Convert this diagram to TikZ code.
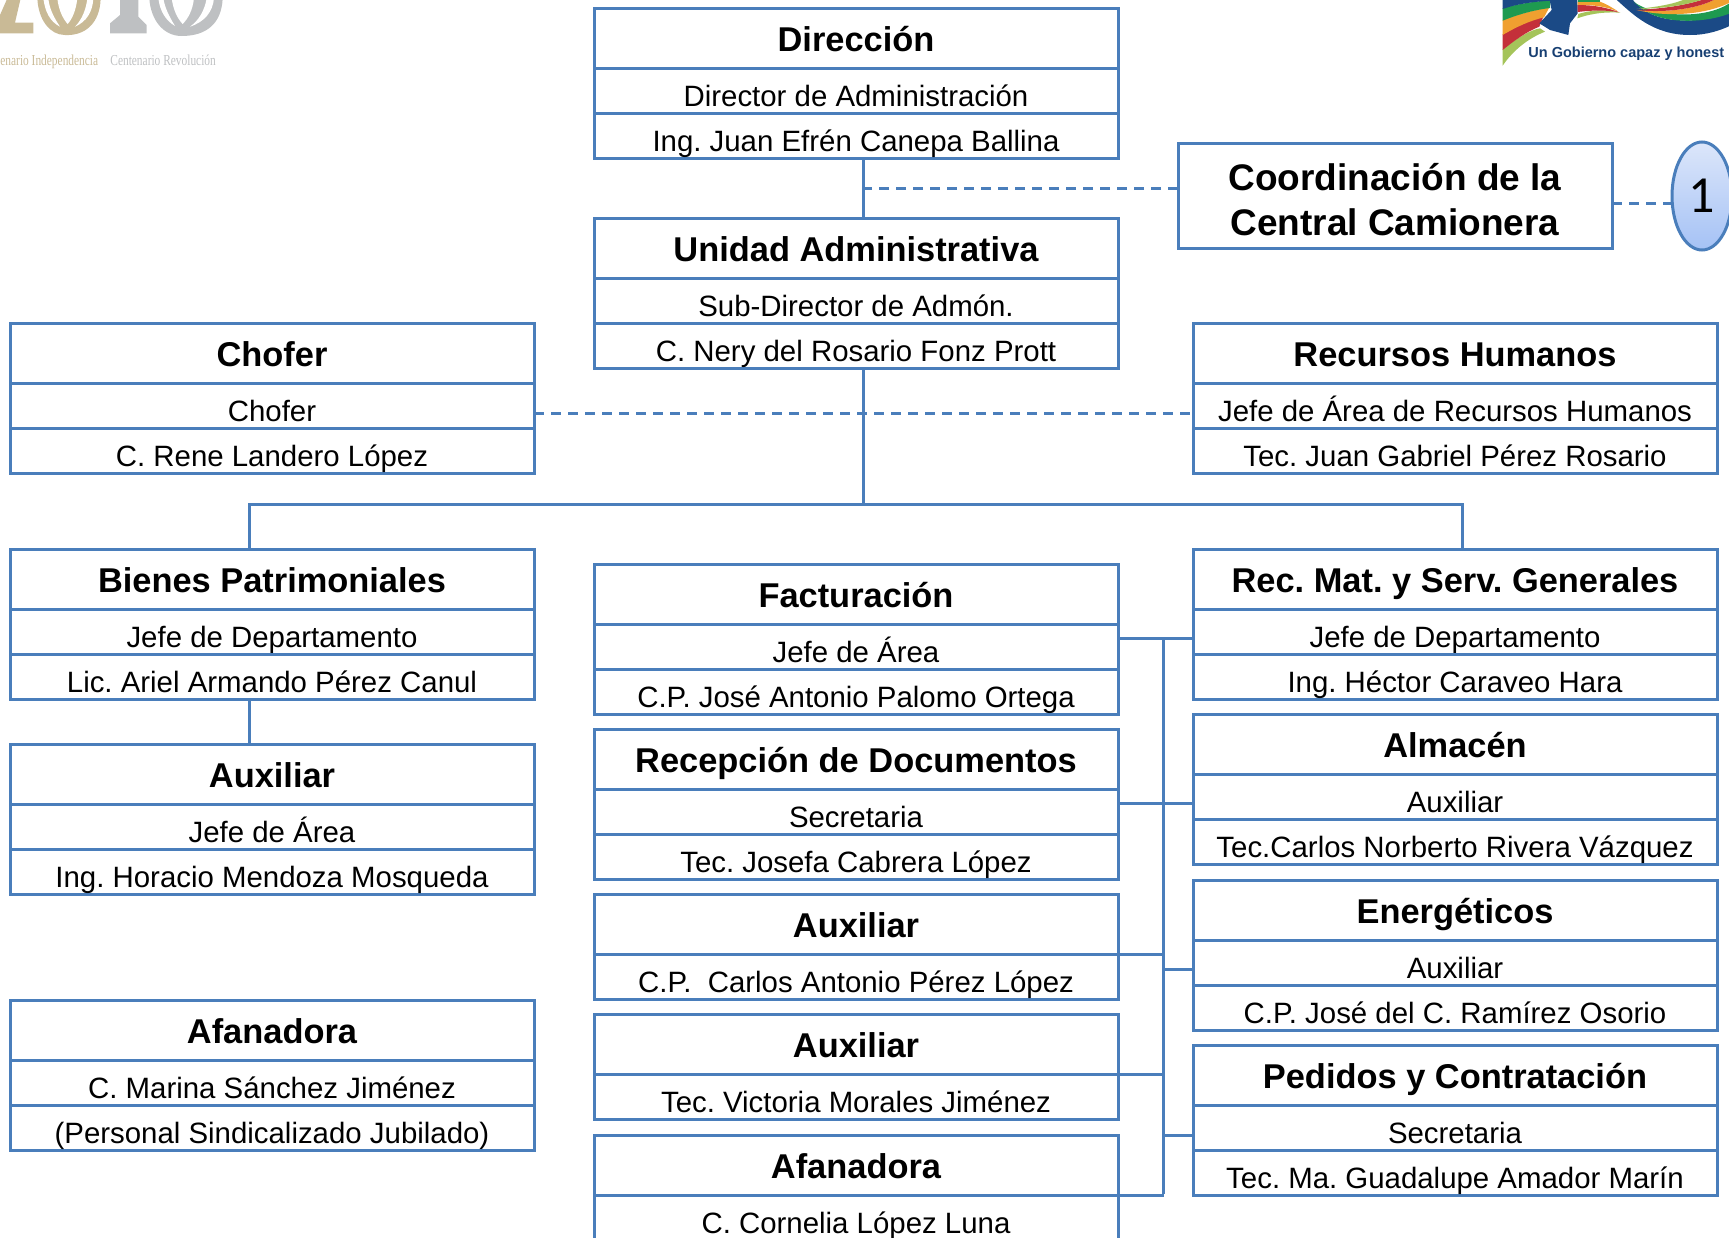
\documentclass[tikz,border=0pt]{standalone}
\usepackage{fontspec}
\setmainfont{Liberation Sans}
\newfontfamily\logoserif{Liberation Serif}
\newfontfamily\onefont{Carlito}
\usetikzlibrary{shapes.geometric,positioning}
\definecolor{orgblue}{HTML}{4A7EBB}
\definecolor{logotan}{HTML}{C9BA96}
\definecolor{logogrey}{HTML}{BEC0C2}
\definecolor{logoblue}{HTML}{1B4A86}
\definecolor{logogreen}{HTML}{1E9A50}
\definecolor{logoorange}{HTML}{F0A030}
\definecolor{logored}{HTML}{C4303A}
\definecolor{logolime}{HTML}{A5C45A}
\definecolor{onetop}{HTML}{DCE6FA}
\definecolor{onebot}{HTML}{A5C2F5}
\tikzset{
  headbox/.style={draw=orgblue,line width=1.5pt,outer sep=0pt,inner xsep=0pt,inner ysep=0pt,minimum width=262pt,text height=21.6pt,text depth=8.4pt,font=\fontsize{17.2}{18}\selectfont\bfseries,anchor=north west},
  rowbox/.style={draw=orgblue,line width=1.5pt,outer sep=0pt,inner xsep=0pt,inner ysep=0pt,minimum width=262pt,text height=19pt,text depth=3.5pt,font=\fontsize{14.7}{16}\selectfont},
  orgline/.style={orgblue,line width=1.5pt},
  orgdash/.style={orgblue,line width=1.5pt,dash pattern=on 5pt off 3.5pt},
  logotext/.style={anchor=base west,inner sep=0pt,font=\logoserif\fontsize{7.6}{8}\selectfont}
}
\begin{document}
\frenchspacing
\begin{tikzpicture}[x=0.5pt,y=-0.5pt]
\path[use as bounding box,clip] (0,0) rectangle (1729,1237);
% logos
\begin{scope}[scale=1/3]
\fill[logotan] (22,-5) -- (0,45) -- (0,100) -- (100,100) -- (100,68) -- (45,68) -- (62,-5) -- cycle;
\fill[logotan] (112,-5) .. controls (115,60) and (150,105) .. (195,105) .. controls (255,108) and (300,70) .. (302,-5) -- cycle;
\fill[white] (130,-5) .. controls (135,35) and (150,65) .. (180,80) .. controls (160,50) and (148,25) .. (145,-5) -- cycle;
\fill[white] (172,-5) -- (232,-5) .. controls (228,30) and (218,55) .. (203,72) .. controls (188,55) and (176,30) .. (172,-5) -- cycle;
\fill[white] (262,-5) .. controls (258,30) and (245,60) .. (225,80) .. controls (260,65) and (278,35) .. (280,-5) -- cycle;
\end{scope}
\begin{scope}[shift={(110,0)},scale=1/3]
\fill[logogrey] (30,-5) -- (30,45) -- (0,70) -- (0,100) -- (110,100) -- (110,75) -- (85,50) -- (85,-5) -- cycle;
\fill[logogrey] (118,-5) .. controls (122,60) and (160,108) .. (215,108) .. controls (290,108) and (335,70) .. (338,-5) -- cycle;
\fill[white] (145,-5) .. controls (150,35) and (168,62) .. (195,78) .. controls (178,50) and (165,25) .. (160,-5) -- cycle;
\fill[white] (185,-5) -- (252,-5) .. controls (248,30) and (235,55) .. (218,72) .. controls (202,55) and (190,30) .. (185,-5) -- cycle;
\fill[white] (290,-5) .. controls (284,30) and (268,60) .. (240,80) .. controls (285,65) and (308,35) .. (312,-5) -- cycle;
\end{scope}
\node[logotext,text=logotan] (logoa) at (0,65) {\scalebox{.75}[1]{enario Independencia}};
\node[logotext,text=logogrey] (logob) at (110,65) {\scalebox{.75}[1]{Centenario Revoluci\'on}};
\begin{scope}[shift={(1500,0)},scale=1/3]
\fill[logolime] (8,197) -- (8,148) .. controls (50,115) and (90,90) .. (120,85) -- (135,95) .. controls (85,115) and (40,150) .. (8,197) -- cycle;
\fill[logored] (8,150) -- (8,103) .. controls (50,80) and (90,60) .. (130,50) -- (118,80) .. controls (80,95) and (45,120) .. (8,150) -- cycle;
\fill[logoorange] (8,105) -- (8,60) .. controls (50,45) and (100,30) .. (148,22) -- (132,52) .. controls (90,62) and (50,80) .. (8,105) -- cycle;
\fill[logogreen] (8,62) -- (8,25) .. controls (50,12) and (100,5) .. (152,0) -- (150,24) .. controls (100,30) and (50,45) .. (8,62) -- cycle;
\fill[logoblue] (8,27) -- (8,-5) -- (152,-5) -- (152,2) .. controls (100,5) and (50,12) .. (8,27) -- cycle;
\fill[logoblue] (148,-5) -- (155,30) -- (118,70) -- (150,90) -- (205,105) -- (210,70) -- (233,40) -- (232,-5) -- cycle;
\fill[logolime] (235,42) .. controls (280,28) and (320,28) .. (362,38) .. controls (320,36) and (280,38) .. (232,55) -- cycle;
\fill[logored] (233,15) .. controls (280,15) and (320,22) .. (358,37) .. controls (320,30) and (280,30) .. (233,36) -- cycle;
\fill[logoorange] (233,5) -- (300,5) .. controls (320,12) and (340,25) .. (355,35) .. controls (320,20) and (280,14) .. (233,15) -- cycle;
\fill[logogreen] (233,-5) -- (300,-5) -- (300,6) -- (233,6) -- cycle;
\fill[logoblue] (345,-5) .. controls (400,45) and (460,105) .. (570,105) .. controls (620,105) and (660,92) .. (695,75) -- (695,35) .. controls (620,68) and (500,72) .. (440,35) .. controls (420,22) and (405,10) .. (395,-5) -- cycle;
\fill[logogreen] (400,5) .. controls (460,50) and (620,62) .. (695,5) -- (695,38) .. controls (620,70) and (500,72) .. (440,35) .. controls (425,25) and (412,15) .. (400,5) -- cycle;
\fill[logoorange] (410,30) .. controls (500,40) and (600,25) .. (650,-5) -- (695,-5) -- (695,5) .. controls (620,45) and (500,52) .. (410,30) -- cycle;
\fill[logored] (410,30) .. controls (500,25) and (560,15) .. (620,-5) -- (650,-5) .. controls (600,25) and (500,40) .. (410,30) -- cycle;
\fill[logolime] (410,27) .. controls (480,20) and (530,10) .. (560,-5) -- (620,-5) .. controls (560,15) and (500,25) .. (410,27) -- cycle;
\end{scope}
\node[anchor=base west,inner sep=0pt,text=logoblue!85!black,font=\fontsize{7.25}{8}\selectfont\bfseries] (logoc) at (1528,57) {Un Gobierno capaz y honest};
% boxes with two rows
\foreach \n/\xx/\yy/\t/\a/\b in {
  dir/594/8/{Direcci\'on}/{Director de Administraci\'on}/{Ing. Juan Efr\'en Canepa Ballina},
  uni/594/218/{Unidad Administrativa}/{Sub-Director de Adm\'on.}/{C. Nery del Rosario Fonz Prott},
  cho/10/323/{Chofer}/{Chofer}/{C. Rene Landero L\'opez},
  rrh/1193/323/{Recursos Humanos}/{Jefe de \'Area de Recursos Humanos}/{Tec. Juan Gabriel P\'erez Rosario},
  bie/10/549/{Bienes Patrimoniales}/{Jefe de Departamento}/{Lic. Ariel Armando P\'erez Canul},
  auxl/10/744/{Auxiliar}/{Jefe de \'Area}/{Ing. Horacio Mendoza Mosqueda},
  afal/10/1000/{Afanadora}/{C. Marina S\'anchez Jim\'enez}/{(Personal Sindicalizado Jubilado)},
  fac/594/564/{Facturaci\'on}/{Jefe de \'Area}/{C.P. Jos\'e Antonio Palomo Ortega},
  rec/594/729/{Recepci\'on de Documentos}/{Secretaria}/{Tec. Josefa Cabrera L\'opez},
  mat/1193/549/{Rec. Mat. y Serv. Generales}/{Jefe de Departamento}/{Ing. H\'ector Caraveo Hara},
  alm/1193/714.5/{Almac\'en}/{Auxiliar}/{Tec.Carlos Norberto Rivera V\'azquez},
  ene/1193/880/{Energ\'eticos}/{Auxiliar}/{C.P. Jos\'e del C. Ram\'irez Osorio},
  ped/1193/1045/{Pedidos y Contrataci\'on}/{Secretaria}/{Tec. Ma. Guadalupe Amador Mar\'in}}
{
  \node[headbox] (\n) at (\xx,\yy) {\t};
  \node[rowbox,below=0pt of \n] (\n1) {\a};
  \node[rowbox,below=0pt of \n1] (\n2) {\b};
}
% boxes with one row
\foreach \n/\xx/\yy/\t/\a in {
  auxc/594/894/{Auxiliar}/{C.P.\ \ Carlos Antonio P\'erez L\'opez},
  auxd/594/1014.5/{Auxiliar}/{Tec. Victoria Morales Jim\'enez},
  afac/594/1135/{Afanadora}/{C. Cornelia L\'opez Luna}}
{
  \node[headbox] (\n) at (\xx,\yy) {\t};
  \node[rowbox,below=0pt of \n] (\n1) {\a};
}
\node[draw=orgblue,line width=1.5pt,outer sep=0pt,minimum width=217pt,minimum height=52.5pt,inner sep=0pt,align=center,font=\fontsize{18.5}{22.5}\selectfont\bfseries,anchor=north west] (cam) at (1178,143) {\rule{0pt}{18pt}Coordinaci\'on de la\\Central Camionera};
\node[ellipse,draw=orgblue,line width=1.5pt,top color=onetop,bottom color=onebot,minimum width=30pt,minimum height=54pt,inner sep=0pt,outer sep=0pt,font=\onefont\fontsize{26}{28}\selectfont] (uno) at (1702,196) {1};
\coordinate (hub) at (863.5,504);
\coordinate (bustop) at (1163.5,638.5);
\coordinate (busbot) at (1163.5,1194);
% connectors
\draw[orgline] ([xshift=3.75pt]dir2.south) -- ([xshift=3.75pt]uni.north);
\draw[orgline] ([xshift=3.75pt]uni2.south) -- (hub);
\draw[orgline] ([xshift=-11.5pt]bie.north) |- (hub) -| ([xshift=3.5pt]mat.north);
\draw[orgline] ([xshift=-11.5pt]bie2.south) -- ([xshift=-11.5pt]auxl.north);
\draw[orgdash] ([yshift=3.75pt]cam.west) -- ([yshift=3.75pt]cam.west -| hub);
\draw[orgdash] ([yshift=-3.75pt]cam.east) -- ([yshift=-3.75pt]cam.east -| uno.west);
\draw[orgdash] ([yshift=-3.75pt]cho1.east) -- ([yshift=-3.75pt]rrh1.west);
\draw[orgline] (bustop) -- (busbot);
\draw[orgline] ([yshift=4pt]fac1.east) -- ([yshift=4pt]fac1.east -| mat1.west);
\draw[orgline] ([yshift=4pt]rec1.east) -- ([yshift=4pt]rec1.east -| alm1.west);
\draw[orgline] (auxc.south east) -- (auxc.south east -| bustop);
\draw[orgline] (auxd.south east) -- (auxd.south east -| bustop);
\draw[orgline] (afac.south east) -- (afac.south east -| bustop);
\draw[orgline] ([yshift=-3.5pt]ene1.west) -- ([yshift=-3.5pt]ene1.west -| bustop);
\draw[orgline] ([yshift=-3.75pt]ped1.west) -- ([yshift=-3.75pt]ped1.west -| bustop);
\end{tikzpicture}
\end{document}
